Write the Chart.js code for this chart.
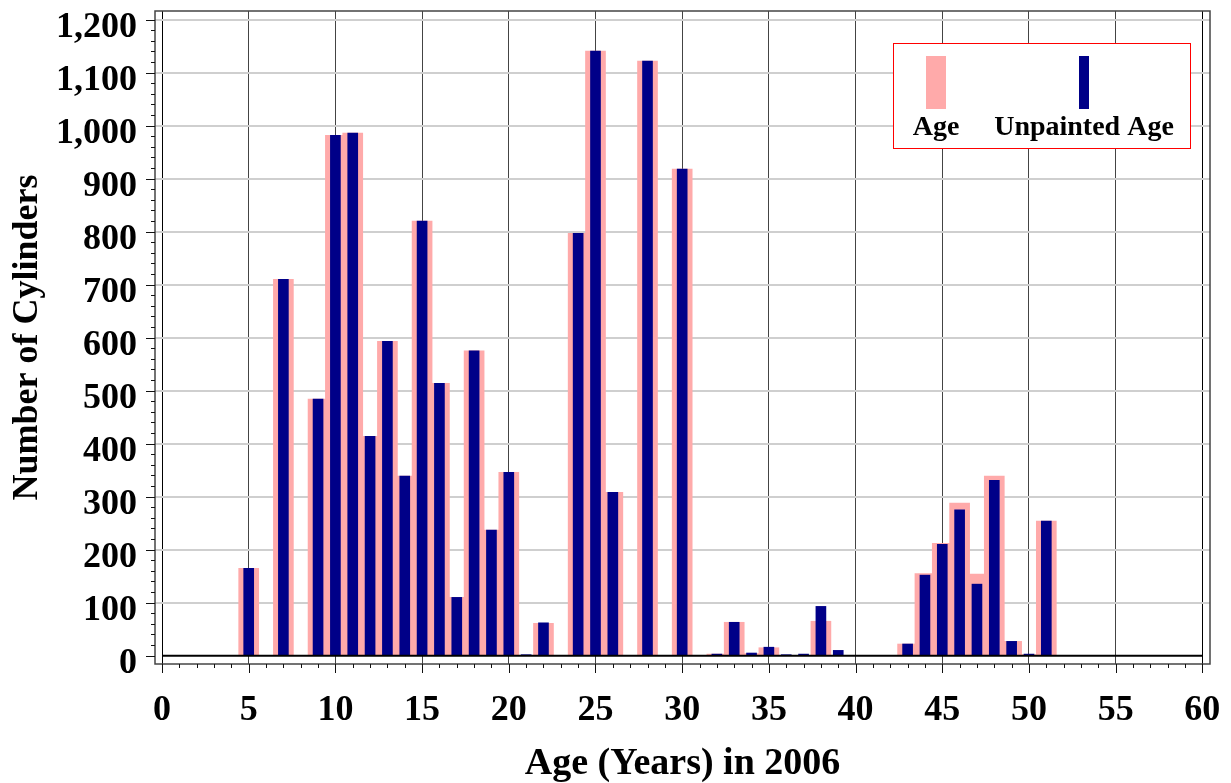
<!DOCTYPE html>
<html>
<head>
<meta charset="utf-8">
<script src="https://cdn.jsdelivr.net/npm/chart.js@4/dist/chart.umd.min.js"></script>
<style>
html, body { margin: 0; padding: 0; background: #fff; }
canvas { display: block; }
</style>
</head>
<body>
<canvas id="chart-age" width="1231" height="783"></canvas>
<script>
// ages (years in 2006) and number of cylinders
let ages = [5, 6, 7, 8, 9, 10, 11, 12, 13, 14, 15, 16, 17, 18, 19, 20,
    21, 22, 23, 24, 25, 26, 27, 28, 29, 30, 31, 32, 33, 34, 35, 36, 37, 38, 39,
    40, 41, 42, 43, 44, 45, 46, 47, 48, 49, 50, 51];
let ageCounts = [165, 0, 710, 0, 484, 982, 986, 414, 593, 339, 820, 514, 110, 575, 237, 346,
    0, 61, 0, 797, 1141, 308, 0, 1122, 0, 918, 0, 3, 63, 4, 15, 0, 0, 65, 0,
    0, 0, 0, 22, 155, 212, 288, 154, 339, 27, 2, 254];
let unpaintedCounts = [165, 0, 710, 0, 484, 982, 986, 414, 593, 339, 820, 514, 110, 575, 237, 346,
    1, 62, 0, 797, 1141, 308, 0, 1122, 0, 918, 0, 3, 63, 5, 16, 1, 3, 93, 10,
    0, 0, 0, 22, 152, 210, 275, 135, 331, 27, 3, 254];

let xTicks = [0, 5, 10, 15, 20, 25, 30, 35, 40, 45, 50, 55, 60];
let yTicks = [0, 100, 200, 300, 400, 500, 600, 700, 800, 900, 1000, 1100, 1200];
let seriesNames = ['Age', 'Unpainted Age'];
let seriesColors = ['#ffaaaa', '#000088'];

let serif = '"Liberation Serif", "Times New Roman", serif';

let extras = {
    id: 'extras',
    afterDatasetsDraw(chart) {
        let ctx = chart.ctx, x = chart.scales.x, y = chart.scales.y;
        // zero line
        ctx.save();
        ctx.strokeStyle = '#000';
        ctx.lineWidth = 2;
        ctx.beginPath();
        ctx.moveTo(x.getPixelForValue(xTicks[0]), y.getPixelForValue(0));
        ctx.lineTo(x.getPixelForValue(xTicks[xTicks.length - 1]), y.getPixelForValue(0));
        ctx.stroke();
        ctx.restore();
    },
    afterDraw(chart) {
        let ctx = chart.ctx, x = chart.scales.x, y = chart.scales.y;
        let area = chart.chartArea;
        ctx.save();
        // frame
        ctx.strokeStyle = '#444';
        ctx.lineWidth = 1.5;
        ctx.strokeRect(area.left, area.top, area.right - area.left, area.bottom - area.top);

        // tick marks, minor and major
        ctx.strokeStyle = '#111';
        ctx.lineWidth = 1;
        ctx.beginPath();
        for (let v = 0; v <= yTicks[yTicks.length - 1]; v += 20) {
            let py = Math.round(y.getPixelForValue(v)) + 0.5;
            let len = v % 100 === 0 ? 9 : 4;
            ctx.moveTo(area.left - len, py);
            ctx.lineTo(area.left, py);
        }
        for (let v = 0; v <= xTicks[xTicks.length - 1]; v += 1) {
            let px = Math.round(x.getPixelForValue(v)) + 0.5;
            let len = v % 5 === 0 ? 9 : 4;
            ctx.moveTo(px, area.bottom);
            ctx.lineTo(px, area.bottom + len);
        }
        ctx.stroke();

        // legend
        let lx = area.right - 317, ly = area.top + 32;
        let lw = 297, lh = 105;
        ctx.fillStyle = '#fff';
        ctx.fillRect(lx, ly, lw, lh);
        ctx.strokeStyle = '#ff0000';
        ctx.lineWidth = 1;
        ctx.strokeRect(lx + 0.5, ly + 0.5, lw, lh);
        let centers = [lx + 43, lx + 191];
        let widths = [20, 10];
        ctx.font = 'bold 28px ' + serif;
        ctx.textAlign = 'center';
        ctx.textBaseline = 'alphabetic';
        for (let i = 0; i < seriesNames.length; i++) {
            ctx.fillStyle = seriesColors[i];
            ctx.fillRect(centers[i] - widths[i] / 2, ly + 13, widths[i], 53);
            ctx.fillStyle = '#000';
            ctx.fillText(seriesNames[i], centers[i], ly + 92);
        }
        ctx.restore();
    }
};

let chartAge = new Chart(document.getElementById('chart-age').getContext('2d'), {
    type: 'bar',
    data: {
        datasets: [{
            label: seriesNames[0],
            data: ages.map((a, i) => ({ x: a, y: ageCounts[i] })),
            backgroundColor: seriesColors[0],
            barThickness: 20,
            grouped: false,
            order: 2
        }, {
            label: seriesNames[1],
            data: ages.map((a, i) => ({ x: a, y: unpaintedCounts[i] })),
            backgroundColor: seriesColors[1],
            barThickness: 10,
            grouped: false,
            order: 1
        }]
    },
    options: {
        responsive: false,
        animation: false,
        layout: { padding: { top: 11, right: 21, left: 0, bottom: 0 } },
        plugins: {
            legend: { display: false },
            tooltip: { enabled: false }
        },
        scales: {
            x: {
                type: 'linear',
                offset: false,
                min: -0.404,
                max: 60.44,
                afterBuildTicks: (scale) => { scale.ticks = xTicks.map(v => ({ value: v })); },
                afterFit: (scale) => {
                    scale.height = 119;
                    scale.paddingLeft = 0;
                    scale.paddingRight = 0;
                },
                grid: {
                    offset: false,
                    color: (c) => (c.tick && (c.tick.value === 0 || c.tick.value === 60)) ? '#000' : '#444',
                    lineWidth: 1,
                    drawTicks: false
                },
                border: { display: false },
                ticks: {
                    autoSkip: false,
                    maxRotation: 0,
                    minRotation: 0,
                    padding: 25,
                    color: '#000',
                    font: { family: serif, size: 36, weight: 'bold' }
                },
                title: {
                    display: true,
                    text: 'Age (Years) in 2006',
                    color: '#000',
                    padding: { top: 0, bottom: 0 },
                    font: { family: serif, size: 38, weight: 'bold', lineHeight: 1.0 }
                }
            },
            y: {
                type: 'linear',
                min: -15.7,
                max: 1216.4,
                afterBuildTicks: (scale) => { scale.ticks = yTicks.map(v => ({ value: v })); },
                afterFit: (scale) => {
                    scale.width = 155;
                    scale.paddingTop = 0;
                    scale.paddingBottom = 0;
                },
                grid: {
                    color: (c) => (c.tick && c.tick.value === 0) ? 'rgba(0,0,0,0)' : '#cfcfcf',
                    lineWidth: 2,
                    drawTicks: false
                },
                border: { display: false },
                ticks: {
                    padding: 18,
                    labelOffset: 8,
                    color: '#000',
                    font: { family: serif, size: 36, weight: 'bold' },
                    callback: (v) => Number(v).toLocaleString('en-US')
                },
                title: {
                    display: true,
                    text: 'Number of Cylinders',
                    color: '#000',
                    padding: { top: 6, bottom: 0 },
                    font: { family: serif, size: 36, weight: 'bold', lineHeight: 1.2 }
                }
            }
        }
    },
    plugins: [extras]
});
</script>
</body>
</html>
